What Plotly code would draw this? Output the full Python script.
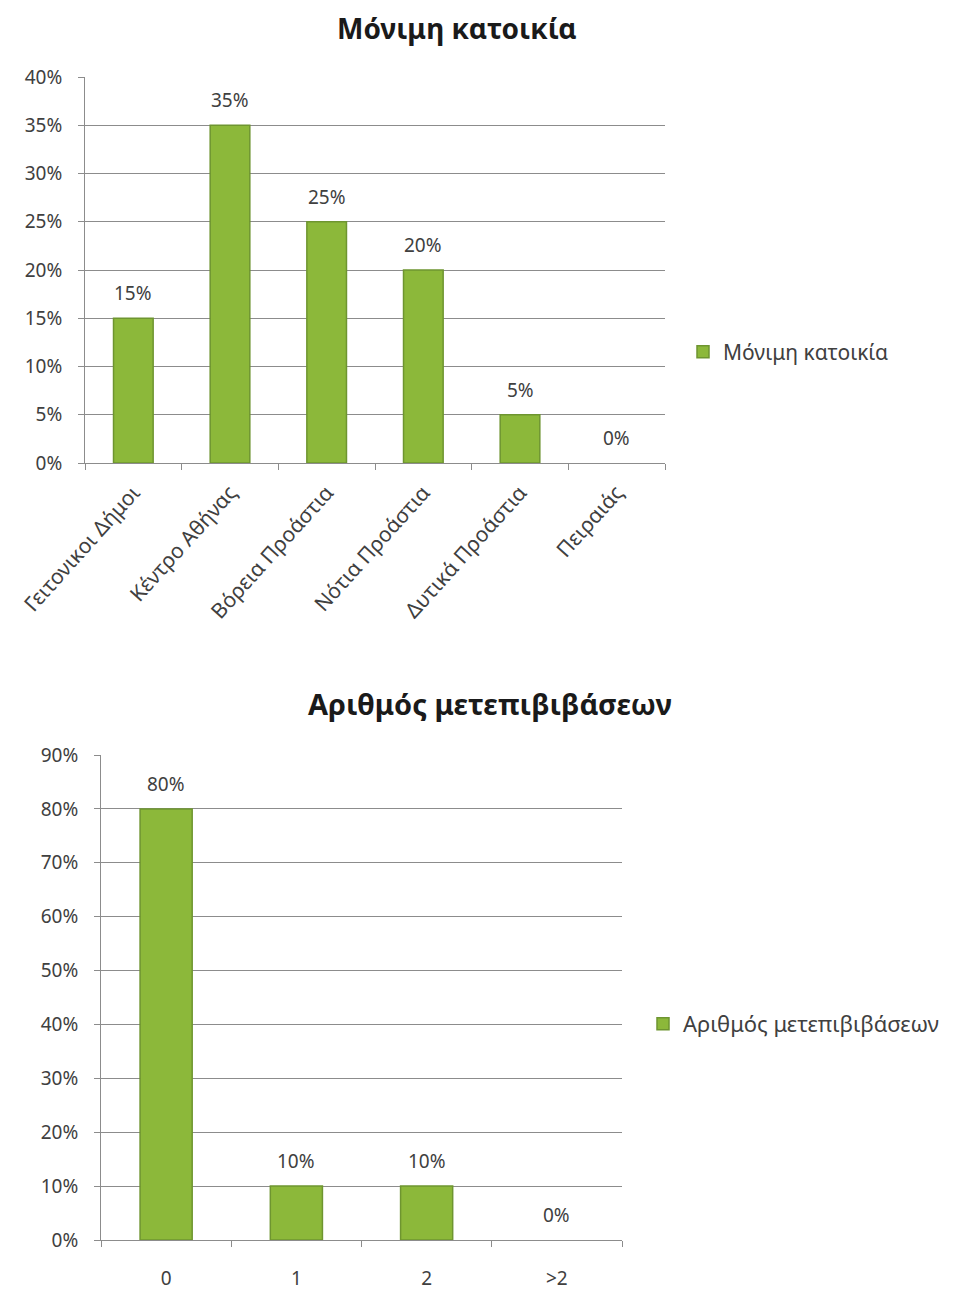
import plotly.graph_objects as go

# Permanent residence distribution
residence_areas = ["Γειτονικοι Δήμοι", "Κέντρο Αθήνας", "Βόρεια Προάστια",
                   "Νότια Προάστια", "Δυτικά Προάστια", "Πειραιάς"]
residence_share = [0.15, 0.35, 0.25, 0.20, 0.05, 0.0]

# Number of transfers
transfer_counts = ["0", "1", "2", ">2"]
transfer_share = [0.80, 0.10, 0.10, 0.0]

W, H = 953, 1290
FONT = "Noto Sans"
TXT = "#404040"
BAR = "#8cb83a"
BAR_EDGE = "#6e9530"
GRID = "#8c8c8c"

fig = go.Figure()


def add_bars(cats, vals, name, xa, ya, leg, width):
    fig.add_trace(go.Bar(
        x=cats, y=vals, name=name,
        marker=dict(color=BAR,
                    line=dict(color=BAR_EDGE,
                              width=[1.5 if v > 0 else 0 for v in vals])),
        xaxis=xa, yaxis=ya, legend=leg, width=width,
    ))
    # value labels sit a fixed distance above each bar top
    for c, v in zip(cats, vals):
        fig.add_annotation(
            x=c, y=v, xref=xa, yref=ya, text=f"{v:.0%}", showarrow=False,
            yanchor="middle", yshift=25,
            font=dict(size=19, color=TXT, family=FONT),
        )


add_bars(residence_areas, residence_share, "Μόνιμη κατοικία",
         "x", "y", "legend", 0.41)
add_bars(transfer_counts, transfer_share, "Αριθμός μετεπιβιβάσεων",
         "x2", "y2", "legend2", 0.4)


def px_x(p):
    return p / W


def px_y(p):
    return 1 - p / H


axis_common = dict(showline=True, linecolor=GRID, linewidth=1,
                   ticks="outside", ticklen=6, tickcolor=GRID,
                   automargin=False,
                   tickfont=dict(size=19, color=TXT, family=FONT))

fig.update_layout(
    width=W, height=H, margin=dict(l=0, r=0, t=0, b=0),
    paper_bgcolor="white", plot_bgcolor="white",
    font=dict(family=FONT, color=TXT),
    xaxis=dict(domain=[px_x(85), px_x(665)], anchor="y", tickangle=-48,
               tickson="boundaries", ticklabelstandoff=8,
               **{**axis_common,
                  "tickfont": dict(size=21, color=TXT, family=FONT)}),
    yaxis=dict(domain=[px_y(463), px_y(77)], anchor="x", range=[0, 0.40],
               dtick=0.05, tickformat=".0%", showgrid=True, gridcolor=GRID,
               gridwidth=1, zeroline=False, ticklabelstandoff=12,
               **axis_common),
    xaxis2=dict(domain=[px_x(101), px_x(622)], anchor="y2",
                tickson="boundaries", ticklabelstandoff=21, **axis_common),
    yaxis2=dict(domain=[px_y(1240), px_y(755)], anchor="x2", range=[0, 0.90],
                dtick=0.10, tickformat=".0%", showgrid=True, gridcolor=GRID,
                gridwidth=1, zeroline=False, ticklabelstandoff=12,
                **axis_common),
    legend=dict(x=px_x(683), y=px_y(352), xanchor="left", yanchor="middle",
                font=dict(size=21, color=TXT, family=FONT),
                bgcolor="rgba(0,0,0,0)", itemwidth=30),
    legend2=dict(x=px_x(643), y=px_y(1024), xanchor="left", yanchor="middle",
                 font=dict(size=22, color=TXT, family=FONT),
                 bgcolor="rgba(0,0,0,0)", itemwidth=30),
    showlegend=True,
)

fig.add_annotation(text="<b>Μόνιμη κατοικία</b>", x=px_x(457), y=px_y(28),
                   xref="paper", yref="paper", showarrow=False,
                   xanchor="center", yanchor="middle",
                   font=dict(size=28, color="#1a1a1a", family=FONT))
fig.add_annotation(text="<b>Αριθμός μετεπιβιβάσεων</b>", x=px_x(490),
                   y=px_y(703), xref="paper", yref="paper", showarrow=False,
                   xanchor="center", yanchor="middle",
                   font=dict(size=29, color="#1a1a1a", family=FONT))

fig.write_html("out.html")
